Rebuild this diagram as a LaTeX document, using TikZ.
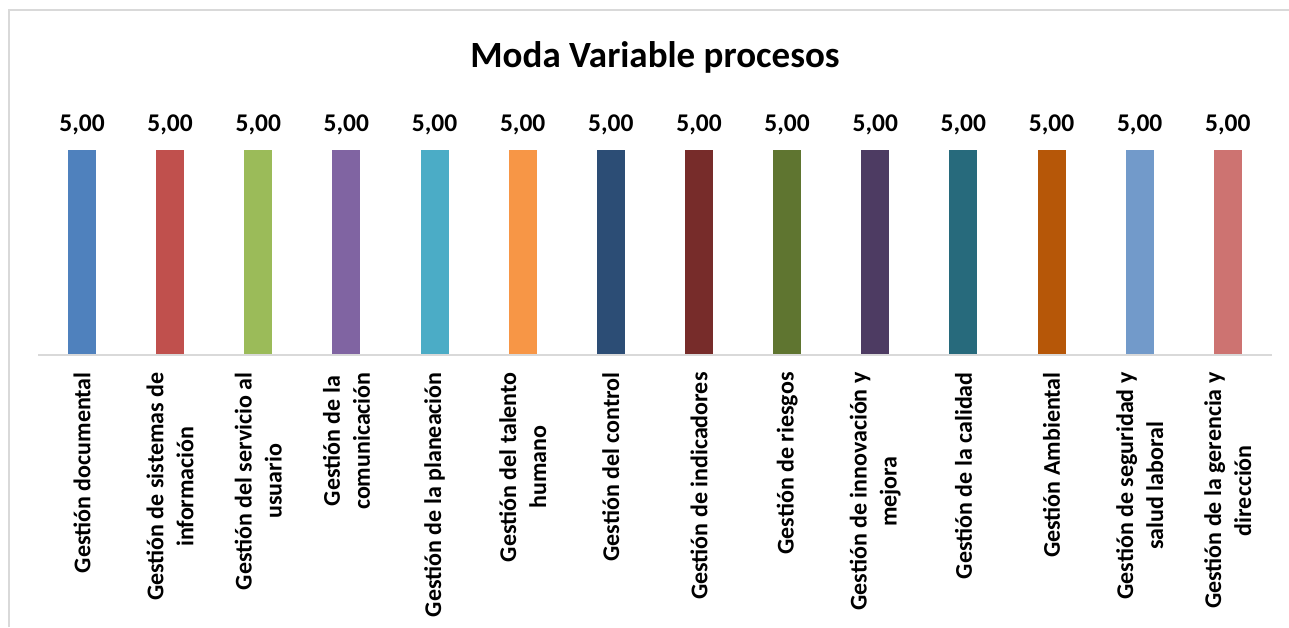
\documentclass[tikz,border=0pt]{standalone}
\usepackage{fontspec}
\setmainfont{Carlito}
\usepackage{tikz}
\usetikzlibrary{positioning}
\usepackage{xcolor}
\definecolor{mvframe}{RGB}{217,217,217}
\definecolor{mvblue}{HTML}{4F81BD}
\definecolor{mvred}{HTML}{C0504D}
\definecolor{mvgreen}{HTML}{9BBB59}
\definecolor{mvpurple}{HTML}{8064A2}
\definecolor{mvaqua}{HTML}{4BACC6}
\definecolor{mvorange}{HTML}{F79646}
\definecolor{mvnavy}{HTML}{2C4D75}
\definecolor{mvmaroon}{HTML}{772C2A}
\definecolor{mvolive}{HTML}{5F7530}
\definecolor{mvplum}{HTML}{4D3B62}
\definecolor{mvteal}{HTML}{276A7C}
\definecolor{mvrust}{HTML}{B65708}
\definecolor{mvsky}{HTML}{729ACA}
\definecolor{mvrose}{HTML}{CD7371}
\tikzstyle{bar} = [rectangle, minimum width=28pt, minimum height=205pt, inner sep=0pt, draw=none]
\tikzstyle{vallabel} = [anchor=base, inner sep=0pt, font=\fontsize{25.5}{30}\selectfont\bfseries]
\tikzstyle{catlabel} = [rotate=90, anchor=east, inner sep=0pt, align=center, font=\fontsize{24}{30}\selectfont\bfseries]
\tikzstyle{axisline} = [line width=1.5pt, color=mvframe]

\begin{document}
\begin{tikzpicture}[x=1pt, y=-1pt]
\useasboundingbox (0,0) rectangle (1289,627);
% Chart frame
\draw[line width=1.5pt, mvframe] (9,627) |- (1289,10);

% Title
\node (title) [anchor=base, inner sep=0pt, font=\fontsize{37}{44}\selectfont\bfseries] at (655,67) {Moda Variable procesos};

% Bars
\node (b1) [bar, fill=mvblue] at (82,252.5) {};
\node (b2) [bar, fill=mvred] at (170.1,252.5) {};
\node (b3) [bar, fill=mvgreen] at (258.3,252.5) {};
\node (b4) [bar, fill=mvpurple] at (346.4,252.5) {};
\node (b5) [bar, fill=mvaqua] at (434.6,252.5) {};
\node (b6) [bar, fill=mvorange] at (522.7,252.5) {};
\node (b7) [bar, fill=mvnavy] at (610.8,252.5) {};
\node (b8) [bar, fill=mvmaroon] at (699.0,252.5) {};
\node (b9) [bar, fill=mvolive] at (787.1,252.5) {};
\node (b10) [bar, fill=mvplum] at (875.3,252.5) {};
\node (b11) [bar, fill=mvteal] at (963.4,252.5) {};
\node (b12) [bar, fill=mvrust] at (1051.5,252.5) {};
\node (b13) [bar, fill=mvsky] at (1139.7,252.5) {};
\node (b14) [bar, fill=mvrose] at (1227.8,252.5) {};

% Category axis
\coordinate (axl) at (38,355);
\coordinate (axr) at (1272,355);
\draw[axisline] (axl) -- (axr);

% Value labels
\node (v1) [vallabel] at ([yshift=18pt]b1.north) {5,00};
\node (v2) [vallabel] at ([yshift=18pt]b2.north) {5,00};
\node (v3) [vallabel] at ([yshift=18pt]b3.north) {5,00};
\node (v4) [vallabel] at ([yshift=18pt]b4.north) {5,00};
\node (v5) [vallabel] at ([yshift=18pt]b5.north) {5,00};
\node (v6) [vallabel] at ([yshift=18pt]b6.north) {5,00};
\node (v7) [vallabel] at ([yshift=18pt]b7.north) {5,00};
\node (v8) [vallabel] at ([yshift=18pt]b8.north) {5,00};
\node (v9) [vallabel] at ([yshift=18pt]b9.north) {5,00};
\node (v10) [vallabel] at ([yshift=18pt]b10.north) {5,00};
\node (v11) [vallabel] at ([yshift=18pt]b11.north) {5,00};
\node (v12) [vallabel] at ([yshift=18pt]b12.north) {5,00};
\node (v13) [vallabel] at ([yshift=18pt]b13.north) {5,00};
\node (v14) [vallabel] at ([yshift=18pt]b14.north) {5,00};

% Category labels
\node (c1) [catlabel] at ([yshift=-17pt]b1.south) {Gestión documental};
\node (c2) [catlabel] at ([yshift=-17pt]b2.south) {Gestión de sistemas de\\información};
\node (c3) [catlabel] at ([yshift=-17pt]b3.south) {Gestión del servicio al\\usuario};
\node (c4) [catlabel] at ([yshift=-17pt]b4.south) {Gestión de la\\comunicación};
\node (c5) [catlabel] at ([yshift=-17pt]b5.south) {Gestión de la planeación};
\node (c6) [catlabel] at ([yshift=-17pt]b6.south) {Gestión del talento\\humano};
\node (c7) [catlabel] at ([yshift=-17pt]b7.south) {Gestión del control};
\node (c8) [catlabel] at ([yshift=-17pt]b8.south) {Gestión de indicadores};
\node (c9) [catlabel] at ([yshift=-17pt]b9.south) {Gestión de riesgos};
\node (c10) [catlabel] at ([yshift=-17pt]b10.south) {Gestión de innovación y\\mejora};
\node (c11) [catlabel] at ([yshift=-17pt]b11.south) {Gestión de la calidad};
\node (c12) [catlabel] at ([yshift=-17pt]b12.south) {Gestión Ambiental};
\node (c13) [catlabel] at ([yshift=-17pt]b13.south) {Gestión de seguridad y\\salud laboral};
\node (c14) [catlabel] at ([yshift=-17pt]b14.south) {Gestión de la gerencia y\\dirección};
\end{tikzpicture}
\end{document}
